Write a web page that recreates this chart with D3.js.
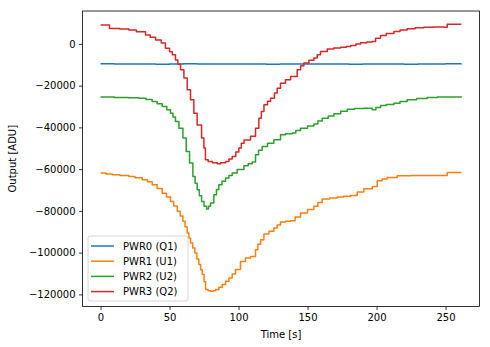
<!DOCTYPE html>
<html><head><meta charset="utf-8">
<script src="https://cdn.jsdelivr.net/npm/d3@7"></script>
<style>body{margin:0;background:#fff}svg{display:block;font-family:"DejaVu Sans",sans-serif}</style>
</head><body><svg id="c" width="490" height="347"></svg>
<script>
const seriesNames = ["PWR0 (Q1)","PWR1 (U1)","PWR2 (U2)","PWR3 (Q2)"];
const seriesColors = ["#1f77b4","#ff7f0e","#2ca02c","#d62728"];
const xTicks = [0,50,100,150,200,250];
const yTicks = [0,-20000,-40000,-60000,-80000,-100000,-120000];

const pwr0Time = [0,10,20,30,40,50,60,70,80,90,100,110,120,130,140,150,160,170,180,190,200,210,220,230,240,250,261.5];
const pwr0Values = [-9550,-9600,-9650,-9580,-9700,-9620,-9560,-9640,-9600,-9680,-9590,-9620,-9700,-9650,-9600,-9580,-9620,-9640,-9700,-9660,-9600,-9640,-9700,-9620,-9580,-9560,-9540];

const pwr1Time = [0,4,8.5,14,20.5,25,30.2,34,37.4,41,44.7,47.8,50.7,53,55.6,57.7,59.7,61.2,62.8,64,65.2,66.8,68.3,69.8,71.2,72.5,73.7,75,76.1,77.9,79.7,81.5,83.3,85.7,88.2,90.6,93,95.4,97.8,101.4,105,108.7,112.3,114,116,118.4,122,125.6,128,130.4,134,137.7,141,144.9,150,154.6,157.5,160.6,166,171.5,176,181.2,186,190.8,196.9,200.5,204,207.7,215,225,234.3,242,249.3,251.2,261.5];
const pwr1Values = [-61900,-62300,-62700,-63000,-63500,-64100,-65100,-66100,-67500,-69300,-71500,-73400,-75500,-77700,-80200,-82500,-85000,-87600,-90600,-93000,-95400,-97800,-100200,-103000,-105700,-108200,-110500,-114000,-117700,-118300,-118500,-118200,-117700,-116600,-115300,-113700,-112100,-110200,-108100,-104200,-102600,-101800,-98600,-96000,-93800,-91100,-89700,-88200,-86800,-85300,-85000,-84700,-82900,-81000,-79300,-77800,-76000,-74300,-73800,-73400,-73000,-72600,-71000,-69400,-68300,-65600,-64700,-64000,-63200,-63100,-63000,-63000,-63000,-61600,-61600];

const pwr2Time = [0,10,20,27.8,33,37.4,41,44.7,48,50.7,52.5,54.3,56.8,59.7,62.1,64.5,66.9,68.5,70,71.6,73.2,75,76.8,78.2,79.7,82.1,84,85.7,88,90.6,93,95.4,99,103.9,107,109.9,112.3,114.5,117.1,121,125.6,130.4,134,138.9,141.5,144.9,150,154.6,157.5,160.6,165,169.1,174,178.7,184,190.8,196.9,199.5,202.9,207,212.6,217,222.2,229,236.7,244,251.2,261.5];
const pwr2Values = [-25500,-25700,-25800,-26000,-26700,-27600,-28700,-30000,-31500,-33200,-35000,-37200,-40400,-45100,-51500,-57100,-63500,-66800,-69900,-72700,-75500,-77800,-79100,-77800,-76200,-72300,-69800,-67500,-65800,-64300,-63000,-61900,-60200,-58400,-57400,-56600,-53100,-51000,-49100,-47600,-45900,-43500,-43100,-42700,-41500,-40400,-39300,-38400,-37000,-35600,-34600,-33500,-32300,-31300,-30900,-30800,-31600,-30500,-29500,-29000,-28400,-27600,-26800,-26200,-25700,-25500,-25400,-25200];

const pwr3Time = [0,6.5,14,20.5,26,32.6,36,39.9,44,47,50,52,54.3,56,58,60.4,62.8,65.2,67.6,70,73.2,74.9,76,78,81,84.5,87,90.6,93,95.4,98,100.2,102,104,108.7,112.3,114.7,116.5,118.4,121,123.2,126,128,130.4,134,137.7,142.5,145,147.3,151,154.6,157,159.4,164.3,169,173.9,178,181.2,185,188.4,193,196.9,199.3,202.9,207,212.6,217,222.2,228,234.3,241,248.8,251.2,261.5];
const pwr3Values = [9100,7400,7100,6700,5800,4300,3200,1900,400,-2100,-3800,-5200,-7700,-9800,-12400,-16400,-22000,-26800,-33200,-38800,-45100,-49900,-55500,-56300,-57000,-57400,-57000,-56300,-55200,-53900,-51800,-49900,-47600,-46000,-44300,-40400,-35600,-32400,-29200,-27500,-26000,-23500,-21200,-18800,-17200,-15600,-12400,-10500,-9200,-7800,-6800,-5200,-3700,-2500,-2000,-1600,-1200,-800,0,600,900,1100,2700,4000,5000,5900,6600,7200,7700,8000,8100,8000,9400,9400];

const allTimes = [pwr0Time,pwr1Time,pwr2Time,pwr3Time];
const allValues = [pwr0Values,pwr1Values,pwr2Values,pwr3Values];

const svg = d3.select("#c");
const L = 82.5, R = 479.5, T = 11, B = 306.5;
const x = d3.scaleLinear().domain([-13.08, 274.6]).range([L, R]);
const y = d3.scaleLinear().domain([15750, -125800]).range([T, B]);

const fmt = v => (v < 0 ? "\u2212" + Math.abs(v) : String(v));

// lines
const line = d3.line().x(d => x(d[0])).y(d => y(d[1])).curve(d3.curveStepAfter);
allTimes.forEach((ts, i) => {
  const pts = ts.map((t, j) => [t, allValues[i][j]]);
  svg.append("path").attr("d", line(pts)).attr("fill", "none")
    .attr("stroke", seriesColors[i]).attr("stroke-width", 1.5).attr("stroke-linejoin", "round");
});

// axes
const xAxis = svg.append("g").attr("transform", `translate(0,${B})`)
  .call(d3.axisBottom(x).tickValues(xTicks).tickSize(3.5).tickPadding(3.5).tickFormat(d3.format("d")));
const yAxis = svg.append("g").attr("transform", `translate(${L},0)`)
  .call(d3.axisLeft(y).tickValues(yTicks).tickSize(3.5).tickPadding(3.5).tickFormat(fmt));
[xAxis, yAxis].forEach(g => {
  g.select(".domain").remove();
  g.selectAll("line").attr("stroke", "#000").attr("stroke-width", 0.8);
  g.selectAll("text").attr("fill", "#000").attr("font-size", 10).attr("font-family", "DejaVu Sans");
});

// spines
svg.append("rect").attr("x", L).attr("y", T).attr("width", R - L).attr("height", B - T)
  .attr("fill", "none").attr("stroke", "#000").attr("stroke-width", 0.8);

// labels
svg.append("text").attr("x", (L + R) / 2).attr("y", 338).attr("text-anchor", "middle")
  .attr("font-size", 10).text("Time [s]");
svg.append("text").attr("transform", `translate(16,${(T + B) / 2}) rotate(-90)`)
  .attr("text-anchor", "middle").attr("font-size", 10).text("Output [ADU]");

// legend
const lg = svg.append("g");
lg.append("rect").attr("x", 88).attr("y", 236).attr("width", 100).attr("height", 65)
  .attr("rx", 2).attr("fill", "#fff").attr("fill-opacity", 0.8)
  .attr("stroke", "#cccccc").attr("stroke-width", 0.8);
seriesNames.forEach((n, i) => {
  const cy = 246 + i * 15.2;
  lg.append("line").attr("x1", 91).attr("x2", 114).attr("y1", cy).attr("y2", cy)
    .attr("stroke", seriesColors[i]).attr("stroke-width", 1.5);
  lg.append("text").attr("x", 123).attr("y", cy).attr("dy", "0.35em")
    .attr("font-size", 10).text(n);
});
</script></body></html>
